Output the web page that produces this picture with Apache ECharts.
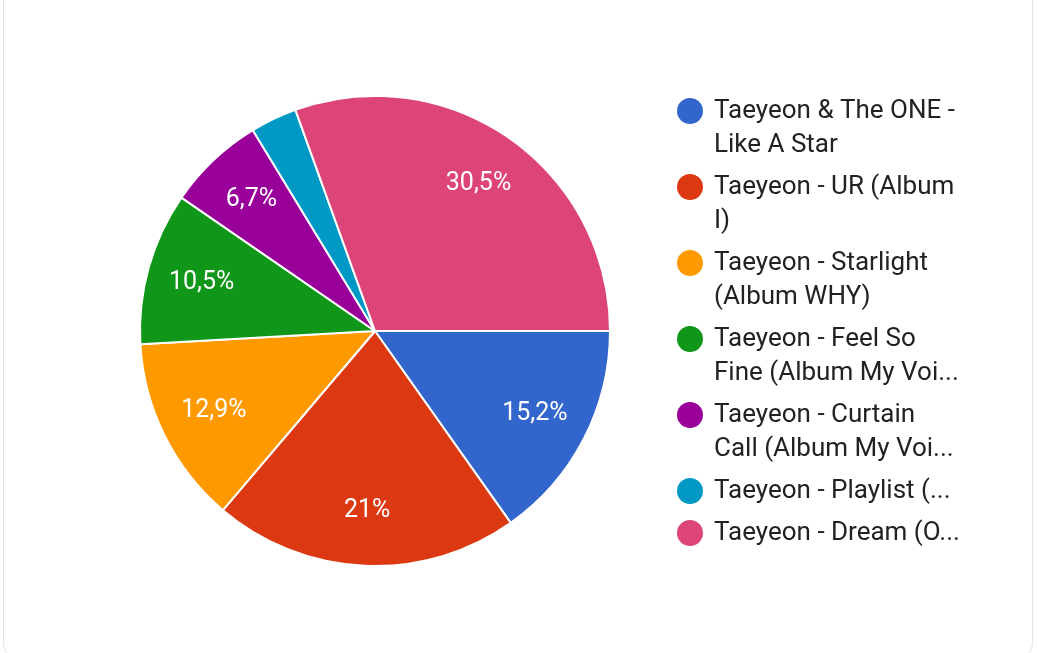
<!DOCTYPE html>
<html>
<head>
<meta charset="utf-8">
<script src="https://cdn.jsdelivr.net/npm/echarts@6/dist/echarts.min.js"></script>
<style>
html,body{margin:0;padding:0;background:#fff;width:1037px;height:653px;overflow:hidden;}
#card{position:absolute;left:3px;top:-20px;width:1030px;height:678px;border:1px solid #e3e3e3;border-radius:14px;box-sizing:border-box;}
#chart{position:absolute;left:0;top:0;width:1037px;height:653px;}
</style>
</head>
<body>
<div id="card"></div>
<div id="chart"></div>
<script>
const categories = [
  'Taeyeon & The ONE - Like A Star',
  'Taeyeon - UR (Album I)',
  'Taeyeon - Starlight (Album WHY)',
  'Taeyeon - Feel So Fine (Album My Voice)',
  'Taeyeon - Curtain Call (Album My Voice)',
  'Taeyeon - Playlist (Album My Voice)',
  'Taeyeon - Dream (OST)'
];
const legendLines = [
  ['Taeyeon & The ONE -', 'Like A Star'],
  ['Taeyeon - UR (Album', 'I)'],
  ['Taeyeon - Starlight', '(Album WHY)'],
  ['Taeyeon - Feel So', 'Fine (Album My Voi...'],
  ['Taeyeon - Curtain', 'Call (Album My Voi...'],
  ['Taeyeon - Playlist (...'],
  ['Taeyeon - Dream (O...']
];
const values = [15.2, 21, 12.9, 10.5, 6.7, 3.2, 30.5];
const sliceLabels = ['15,2%', '21%', '12,9%', '10,5%', '6,7%', '', '30,5%'];
const colors = ['#3366cc', '#dc3912', '#ff9900', '#109618', '#990099', '#0099c6', '#dd4477'];

const rich = {
  t: { fontSize: 26, lineHeight: 34, color: '#222222', fontFamily: 'Roboto' },
  g: { width: 11, height: 26 },
  sp: { width: 37, height: 26 }
};
colors.forEach((c, i) => {
  rich['d' + i] = { width: 26, height: 26, borderRadius: 13, backgroundColor: c };
});

const chart = echarts.init(document.getElementById('chart'), null, { renderer: 'canvas' });
chart.setOption({
  backgroundColor: 'transparent',
  animation: false,
  color: colors,
  legend: {
    orient: 'vertical',
    left: 671,
    top: 94,
    padding: 0,
    itemGap: 8,
    itemWidth: 0,
    itemHeight: 0,
    selectedMode: false,
    data: categories,
    formatter: function (name) {
      const i = categories.indexOf(name);
      const lines = legendLines[i];
      let s = '{d' + i + '|}{g|}{t|' + lines[0] + '}';
      for (let k = 1; k < lines.length; k++) s += '\n{sp|}{t|' + lines[k] + '}';
      return s;
    },
    textStyle: { rich: rich, fontSize: 26, lineHeight: 34, fontFamily: 'Roboto' }
  },
  series: [
    {
      type: 'pie',
      center: [375, 331],
      radius: [0, 235],
      startAngle: 0,
      clockwise: true,
      silent: true,
      label: { show: false },
      labelLine: { show: false },
      itemStyle: { borderColor: '#ffffff', borderWidth: 2 },
      data: categories.map((n, i) => ({ name: n, value: values[i] }))
    },
    {
      type: 'pie',
      center: [375, 331],
      radius: [0, 354],
      startAngle: 0,
      clockwise: true,
      silent: true,
      legendHoverLink: false,
      itemStyle: { color: 'rgba(0,0,0,0)' },
      label: {
        show: true,
        position: 'inside',
        color: '#ffffff',
        fontSize: 25,
        fontFamily: 'Roboto',
        formatter: function (p) { return sliceLabels[p.dataIndex]; }
      },
      labelLine: { show: false },
      data: categories.map((n, i) => ({ name: n + ' ', value: values[i] }))
    }
  ]
});
</script>
</body>
</html>
